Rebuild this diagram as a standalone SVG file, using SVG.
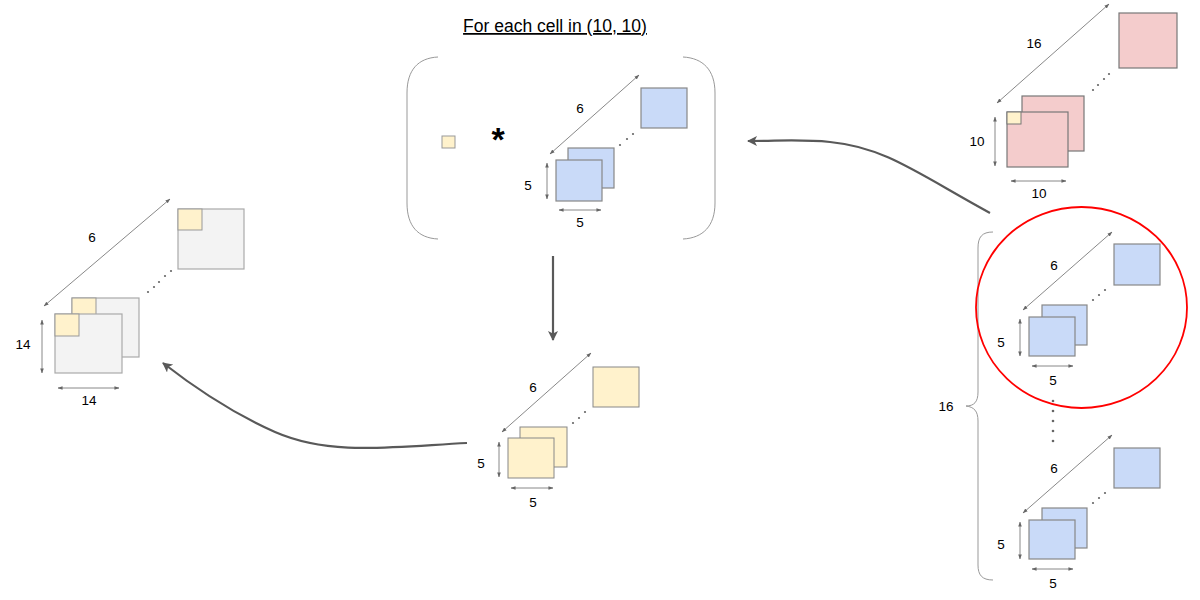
<svg xmlns="http://www.w3.org/2000/svg" width="1200" height="600" viewBox="0 0 1200 600">
<defs>
<marker id="dim" viewBox="0 0 6 6" refX="5.5" refY="3" markerWidth="5" markerHeight="5" markerUnits="userSpaceOnUse" orient="auto-start-reverse"><path d="M0,0.8 L6,3 L0,5.2 Z" fill="#666"/></marker>
<marker id="big" viewBox="0 0 10 10" refX="9" refY="5" markerWidth="10" markerHeight="10" markerUnits="userSpaceOnUse" orient="auto"><path d="M0,0 L10,5 L0,10 L2.5,5 Z" fill="#595959"/></marker>
</defs>
<style>
text{font-family:"Liberation Sans",Arial,sans-serif;fill:#000;text-anchor:middle}
.lbl{font-size:13.5px}
.dl{stroke:#7a7a7a;stroke-width:0.9;fill:none;marker-start:url(#dim);marker-end:url(#dim)}
.blue{fill:#c9daf8;stroke:#888;stroke-width:1.2}
.pink{fill:#f4cccc;stroke:#777;stroke-width:1.2}
.yel{fill:#fff2cc;stroke:#999;stroke-width:1}
.gry{fill:#f3f3f3;stroke:#aaa;stroke-width:1.2}
.dot{fill:#666}
.br{fill:none;stroke:#999;stroke-width:1}
.conn{fill:none;stroke:#595959;stroke-width:2.2;marker-end:url(#big)}
</style>
<rect width="1200" height="600" fill="#fff"/>

<text x="555" y="32" style="font-size:17.5px;text-decoration:underline">For each cell in (10, 10)</text>

<g id="kernel-op">
<path class="br" d="M438 57 C418 58 407 70 407 93 L407 203 C407 226 418 238 438 239"/>
<path class="br" d="M683 57 C703 58 715 70 715 93 L715 203 C715 226 703 238 683 239"/>
<rect class="yel" x="442" y="136" width="13" height="12"/>
<text x="498" y="151" style="font-size:34px;font-weight:bold">*</text>
<line class="dl" x1="550" y1="154" x2="639" y2="75"/>
<text class="lbl" x="580" y="113">6</text>
<rect class="blue" x="641" y="88" width="46" height="40"/>
<circle class="dot" cx="620" cy="145" r="1.1"/><circle class="dot" cx="627" cy="139" r="1.1"/><circle class="dot" cx="633" cy="134" r="1.1"/>
<rect class="blue" x="568" y="148" width="46" height="40"/>
<rect class="blue" x="556" y="160" width="46" height="41"/>
<line class="dl" x1="547" y1="163" x2="547" y2="199"/>
<text class="lbl" x="528" y="190">5</text>
<line class="dl" x1="559" y1="210" x2="601" y2="210"/>
<text class="lbl" x="580" y="227">5</text>
</g>

<g id="input">
<line class="dl" x1="997" y1="103" x2="1109" y2="4"/>
<text class="lbl" x="1034" y="48">16</text>
<rect class="pink" x="1119" y="13" width="58" height="55"/>
<circle class="dot" cx="1093" cy="90" r="1.1"/><circle class="dot" cx="1098" cy="85" r="1.1"/><circle class="dot" cx="1104" cy="79" r="1.1"/><circle class="dot" cx="1109" cy="74" r="1.1"/>
<rect class="pink" x="1022" y="96" width="62" height="55"/>
<rect class="pink" x="1007" y="112" width="61" height="55"/>
<rect class="yel" x="1007" y="112" width="14" height="12" style="stroke:#777"/>
<line class="dl" x1="995" y1="117" x2="995" y2="166"/>
<text class="lbl" x="977" y="146">10</text>
<line class="dl" x1="1011" y1="181" x2="1066" y2="181"/>
<text class="lbl" x="1039" y="198">10</text>
</g>

<g id="kernels">
<path class="br" d="M993 232 C982 232 978 237 978 248 L978 392 C978 402 974 406 966 406 C974 407 978 411 978 421 L978 565 C978 575 982 580 993 580"/>
<text class="lbl" x="946" y="411">16</text>

<line class="dl" x1="1023" y1="310" x2="1112" y2="232"/>
<text class="lbl" x="1054" y="270">6</text>
<rect class="blue" x="1114" y="244" width="46" height="41"/>
<circle class="dot" cx="1093" cy="300" r="1.1"/><circle class="dot" cx="1099" cy="295" r="1.1"/><circle class="dot" cx="1105" cy="290" r="1.1"/>
<rect class="blue" x="1042" y="305" width="45" height="40"/>
<rect class="blue" x="1029" y="317" width="46" height="39"/>
<line class="dl" x1="1020" y1="319" x2="1020" y2="356"/>
<text class="lbl" x="1001" y="347">5</text>
<line class="dl" x1="1032" y1="366" x2="1073" y2="366"/>
<text class="lbl" x="1053" y="385">5</text>

<circle class="dot" cx="1053" cy="401" r="1.3"/><circle class="dot" cx="1053" cy="411" r="1.3"/><circle class="dot" cx="1053" cy="421" r="1.3"/><circle class="dot" cx="1053" cy="431" r="1.3"/><circle class="dot" cx="1053" cy="441" r="1.3"/>

<line class="dl" x1="1023" y1="513" x2="1112" y2="435"/>
<text class="lbl" x="1054" y="473">6</text>
<rect class="blue" x="1114" y="448" width="46" height="40"/>
<circle class="dot" cx="1093" cy="503" r="1.1"/><circle class="dot" cx="1099" cy="498" r="1.1"/><circle class="dot" cx="1105" cy="493" r="1.1"/>
<rect class="blue" x="1042" y="508" width="45" height="40"/>
<rect class="blue" x="1029" y="520" width="46" height="39"/>
<line class="dl" x1="1020" y1="522" x2="1020" y2="559"/>
<text class="lbl" x="1001" y="549">5</text>
<line class="dl" x1="1032" y1="569" x2="1073" y2="569"/>
<text class="lbl" x="1053" y="588">5</text>

<ellipse cx="1081.5" cy="307.5" rx="105.5" ry="100.5" fill="none" stroke="#f00" stroke-width="1.8"/>
</g>

<g id="result">
<line class="dl" x1="502" y1="432" x2="591" y2="353"/>
<text class="lbl" x="533" y="392">6</text>
<rect class="yel" x="593" y="367" width="46" height="40" style="stroke:#888"/>
<circle class="dot" cx="573" cy="423" r="1.1"/><circle class="dot" cx="579" cy="418" r="1.1"/><circle class="dot" cx="585" cy="412" r="1.1"/>
<rect class="yel" x="520" y="427" width="47" height="40" style="stroke:#888"/>
<rect class="yel" x="508" y="438" width="46" height="40" style="stroke:#888"/>
<line class="dl" x1="499" y1="442" x2="499" y2="477"/>
<text class="lbl" x="481" y="468">5</text>
<line class="dl" x1="511" y1="488" x2="553" y2="488"/>
<text class="lbl" x="533" y="507">5</text>
</g>

<g id="output">
<line class="dl" x1="44" y1="306" x2="170" y2="199"/>
<text class="lbl" x="92" y="242">6</text>
<rect class="gry" x="178" y="209" width="66" height="60"/>
<rect class="yel" x="178" y="209" width="24" height="21"/>
<circle class="dot" cx="148" cy="292" r="1.1"/><circle class="dot" cx="154" cy="287" r="1.1"/><circle class="dot" cx="159" cy="282" r="1.1"/><circle class="dot" cx="165" cy="276" r="1.1"/><circle class="dot" cx="171" cy="271" r="1.1"/>
<rect class="gry" x="72" y="298" width="67" height="59"/>
<rect class="yel" x="72" y="298" width="24" height="21"/>
<rect class="gry" x="55" y="314" width="67" height="59"/>
<rect class="yel" x="55" y="314" width="24" height="22"/>
<line class="dl" x1="42" y1="320" x2="42" y2="373"/>
<text class="lbl" x="23" y="349">14</text>
<line class="dl" x1="58" y1="388" x2="119" y2="388"/>
<text class="lbl" x="89" y="405">14</text>
</g>

<g id="connectors">
<path class="conn" d="M553 256 L553 340"/>
<path class="conn" d="M990 213 C920 175 885 147 830 142 C800 139 780 141 748 141"/>
<path class="conn" d="M467 443 C390 447 330 456 275 432 C230 412 195 388 163 363"/>
</g>
</svg>
